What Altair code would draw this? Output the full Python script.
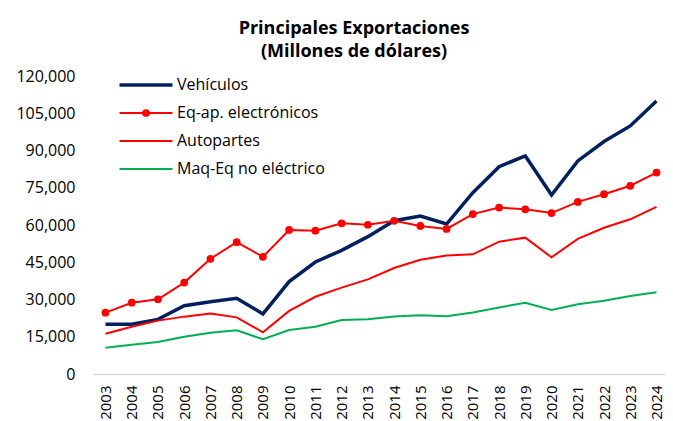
import altair as alt
import pandas as pd

years = ["2003", "2004", "2005", "2006", "2007", "2008", "2009", "2010", "2011", "2012", "2013",
         "2014", "2015", "2016", "2017", "2018", "2019", "2020", "2021", "2022", "2023", "2024"]
series = ["Vehículos", "Eq-ap. electrónicos", "Autopartes", "Maq-Eq no eléctrico"]
colors = ["#002060", "#FF0000", "#FF0000", "#00B050"]

vehiculos = [20000, 20000, 22000, 27500, 29100, 30500, 24200, 37200, 45100, 49800, 55300,
             61700, 63600, 60400, 73000, 83500, 87800, 72100, 85800, 93600, 99900, 109900]
electronicos = [24700, 28700, 30100, 36800, 46400, 53100, 47200, 58000, 57700, 60700, 60100,
                61700, 59600, 58400, 64400, 67000, 66300, 64800, 69300, 72400, 75800, 81100]
autopartes = [16200, 19000, 21500, 23100, 24400, 22800, 16800, 25400, 31100, 34800, 38100,
              42700, 46000, 47700, 48200, 53300, 54900, 47000, 54400, 58900, 62300, 67300]
maquinaria = [10600, 11800, 12900, 15000, 16600, 17600, 14000, 17700, 19000, 21700, 22000,
              23200, 23700, 23300, 24800, 26800, 28700, 25800, 28100, 29500, 31400, 32900]

y_ticks = [0, 15000, 30000, 45000, 60000, 75000, 90000, 105000, 120000]

rows = []
for name, vals in zip(series, [vehiculos, electronicos, autopartes, maquinaria]):
    for yr, v in zip(years, vals):
        rows.append({"anio": yr, "serie": name, "valor": v})
df = pd.DataFrame(rows)

FONT = "Open Sans"

x_enc = alt.X(
    "anio:O", sort=years,
    scale=alt.Scale(type="point", padding=0.4, align=0.595),
    axis=alt.Axis(title=None, labelAngle=270, labelAlign="right", labelBaseline="middle",
                  labelFont=FONT, labelFontSize=15, labelColor="#000000", ticks=False,
                  domainColor="#D9D9D9", domainWidth=1.5, labelPadding=11, grid=False),
)
y_enc = alt.Y(
    "valor:Q",
    scale=alt.Scale(domain=[0, 120000], nice=False),
    axis=alt.Axis(title=None, values=y_ticks, format=",.0f", labelFont=FONT, labelFontSize=16,
                  labelColor="#000000", ticks=False, domain=False, grid=False, labelPadding=18),
)

lines = alt.Chart(df).mark_line().encode(
    x=x_enc,
    y=y_enc,
    color=alt.Color(
        "serie:N", sort=series, scale=alt.Scale(range=colors),
        legend=alt.Legend(
            title=None, orient="none", legendX=45, legendY=1, padding=0,
            symbolType="stroke", symbolSize=2809, labelFont=FONT, labelFontSize=16,
            labelColor="#000000", labelOffset=23, rowPadding=12,
            symbolStrokeWidth=alt.ExprRef("datum.value === 'Vehículos' ? 3.5 : 2"),
        ),
    ),
    strokeWidth=alt.condition(alt.datum.serie == "Vehículos", alt.value(3.5), alt.value(2)),
)

points = alt.Chart(df).transform_filter(
    alt.datum.serie == "Eq-ap. electrónicos"
).mark_point(filled=True, color="#FF0000", size=60, opacity=1).encode(
    x=x_enc,
    y=y_enc,
    shape=alt.Shape(
        "serie:N",
        scale=alt.Scale(domain=series, range=["M0,0", "circle", "M0,0", "M0,0"]),
        legend=alt.Legend(
            title=None, orient="none", legendX=45, legendY=1, padding=0,
            symbolSize=60, symbolFillColor="#FF0000", symbolStrokeColor="#FF0000",
            labelFont=FONT, labelFontSize=16, labelExpr="''", labelOffset=5,
            rowPadding=12,
        ),
    ),
)

chart = alt.layer(lines, points).properties(
    width=572, height=298,
    title=alt.TitleParams(
        text=["Principales Exportaciones", "(Millones de dólares)"],
        font=FONT, fontSize=18, fontWeight="bold", color="#000000",
        anchor="middle", dx=-25, lineHeight=23, offset=7,
    ),
    autosize=alt.AutoSizeParams(type="none"),
    padding={"left": 85, "top": 68, "right": 0, "bottom": 47},
).configure_view(stroke=None)

chart.save("out.html", embed_options={"renderer": "svg", "actions": False})
